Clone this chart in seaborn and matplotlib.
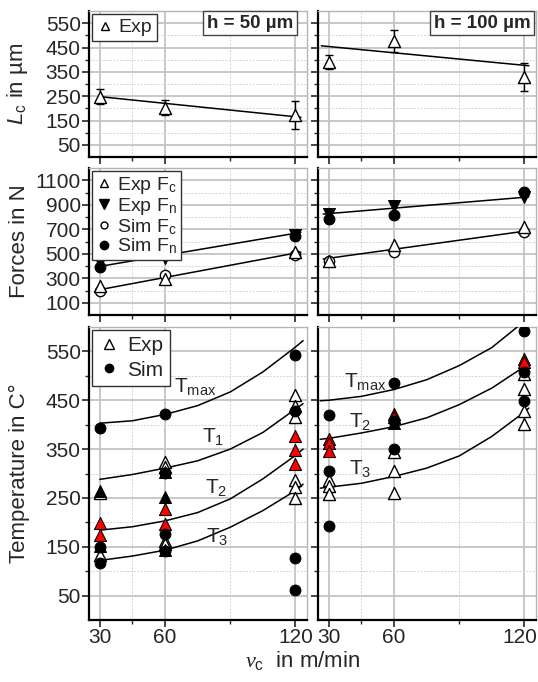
import matplotlib
matplotlib.use('Agg')
import matplotlib.pyplot as plt
from matplotlib.lines import Line2D
from matplotlib.ticker import FixedLocator, NullFormatter
from matplotlib.transforms import ScaledTranslation
import seaborn as sns

sns.set_style("ticks")
plt.rcParams['font.family'] = ['Liberation Sans', 'DejaVu Sans']
plt.rcParams['mathtext.fontset'] = 'custom'
plt.rcParams['mathtext.rm'] = 'Liberation Sans'
plt.rcParams['mathtext.it'] = 'Liberation Serif:italic'
plt.rcParams['mathtext.sf'] = 'Liberation Sans:italic'

speeds = [30, 60, 120]

# _____contact length_____
lc_50 = [248, 203, 172]
lc_50_err = [30, 31, 58]
lc_100 = [389, 477, 328]
lc_100_err = [29, 45, 58]
lc_fit_x_50 = [30, 122.5]
lc_fit_50 = [248, 163]
lc_fit_x_100 = [26.5, 122]
lc_fit_100 = [457, 375]

# _____forces_____
exp_fc_50 = [234, 294, 515]
exp_fn_50 = [432, 465, 650]
sim_fc_50 = [200, 329, 492]
sim_fn_50 = [390, 491, 645]
exp_fc_100 = [437, 573, 721]
exp_fn_100 = [821, 889, 960]
sim_fc_100 = [443, 513, 675]
sim_fn_100 = [781, 813, 1005]
f_fit_x_50 = [30, 122.5]
fc_fit_50 = [207, 514]
fn_fit_50 = [397, 675]
f_fit_x_100 = [27.4, 122]
fc_fit_100 = [457, 689]
fn_fit_100 = [824, 964]

# _____temperatures_____
sim_x_50 = [30, 30, 30, 60, 60, 60, 60, 120, 120, 120, 120]
sim_t_50 = [393, 150, 117, 422, 301, 176, 141, 543, 428, 126, 62]
exp_x_50 = [30, 30, 60, 60, 60, 60, 120, 120, 120, 120, 120, 120]
exp_t_50 = [260, 133, 324, 313, 162, 155, 460, 439, 415, 287, 272, 249]
blk_x_50 = [30, 30, 60, 60, 60]
blk_t_50 = [265, 152, 304, 252, 143]
red_x_50 = [30, 30, 60, 60, 120, 120, 120]
red_t_50 = [198, 174, 228, 196, 376, 349, 320]

sim_x_100 = [30, 30, 30, 60, 60, 60, 120, 120, 120]
sim_t_100 = [419, 306, 192, 485, 407, 350, 591, 507, 448]
exp_x_100 = [30, 30, 30, 60, 60, 60, 120, 120, 120, 120]
exp_t_100 = [287, 274, 259, 345, 306, 260, 504, 473, 429, 401]
blk_x_100 = [60]
blk_t_100 = [404]
red_x_100 = [30, 30, 30, 60, 60, 120, 120]
red_t_100 = [371, 362, 347, 422, 415, 535, 529]

curve_x_50 = [30, 45, 60, 75, 90, 105, 120, 123.5]
tmax_50 = [403, 408, 421, 439, 467, 508, 559, 572]
t1_50 = [288, 298, 311, 326, 350, 384, 432, 443]
t2_50 = [184, 191, 203, 220, 248, 289, 337, 350]
t3_50 = [122, 131, 143, 162, 190, 224, 265, 278]
curve_x_100 = [26, 30, 45, 60, 75, 90, 105, 120, 122]
tmax_100 = [449, 450, 458, 472, 492, 521, 558, 612, 620]
t2_100 = [370, 372, 383, 396, 414, 441, 475, 519, 526]
t3_100 = [270, 272, 280, 294, 311, 336, 376, 426, 434]

W, H = 538, 682
fig = plt.figure(figsize=(W / 100, H / 100), dpi=100)


def px_axes(x0, x1, y0, y1):
    return fig.add_axes([x0 / W, 1 - y1 / H, (x1 - x0) / W, (y1 - y0) / H])


cols = [(89, 307), (318, 536)]
rows = [(11, 157), (168, 315), (327, 620)]
axes = [[px_axes(c[0], c[1], r[0], r[1]) for c in cols] for r in rows]

yticks = [([50, 150, 250, 350, 450, 550], [100, 200, 300, 400, 500], 600),
          ([100, 300, 500, 700, 900, 1100], [200, 400, 600, 800, 1000], 1200),
          ([50, 150, 250, 350, 450, 550], [100, 200, 300, 400, 500], 600)]

for i, row in enumerate(axes):
    for j, ax in enumerate(row):
        ax.set_xlim(25, 125.3)
        ax.set_ylim(0, yticks[i][2])
        ax.xaxis.set_major_locator(FixedLocator(speeds))
        ax.xaxis.set_minor_locator(FixedLocator([45, 90]))
        ax.yaxis.set_major_locator(FixedLocator(yticks[i][0]))
        ax.yaxis.set_minor_locator(FixedLocator(yticks[i][1]))
        ax.grid(which='major', color='#c4c4c4', lw=1.3, zorder=0)
        ax.grid(which='minor', color='#d4d4d4', lw=0.7, ls=(0, (2, 1.5)), zorder=0)
        ax.set_axisbelow(True)
        ax.tick_params(which='major', direction='out', length=5, width=1.2, labelsize=15, pad=1)
        ax.tick_params(which='minor', direction='out', length=3, width=1.0)
        for s in ['left', 'bottom']:
            ax.spines[s].set_linewidth(1.6)
            ax.spines[s].set_color('black')
        for s in ['top', 'right']:
            ax.spines[s].set_visible(True)
            ax.spines[s].set_linewidth(1.0)
            ax.spines[s].set_color('#b5b5b5')
        if i < 2:
            ax.xaxis.set_major_formatter(NullFormatter())
        if j == 1:
            ax.yaxis.set_major_formatter(NullFormatter())
        ax.set_xlabel('')
        ax.set_ylabel('')

tri_open = dict(marker='^', color='white', edgecolor='black', linewidth=1.0)
circ_fill = dict(marker='o', color='black', edgecolor='black', linewidth=0.8)

# _____ROW 1: contact length_____
for ax, lc, err, fx, fy in [(axes[0][0], lc_50, lc_50_err, lc_fit_x_50, lc_fit_50),
                            (axes[0][1], lc_100, lc_100_err, lc_fit_x_100, lc_fit_100)]:
    sns.lineplot(x=fx, y=fy, color='black', lw=1.1, ax=ax, zorder=3)
    ax.errorbar(speeds, lc, yerr=err, fmt='none', ecolor='black', elinewidth=1.0, capsize=3, capthick=1.0, zorder=4)
    sns.scatterplot(x=speeds, y=lc, s=75, zorder=5, ax=ax, **tri_open)

leg = axes[0][0].legend(handles=[Line2D([], [], ls='', marker='^', mfc='white', mec='black', ms=6)],
                        labels=['Exp'], loc='upper left', fontsize=14, handlelength=0.8, handletextpad=0.3,
                        borderpad=0.25, borderaxespad=0.15, fancybox=False, edgecolor='#333333', framealpha=1)
leg.get_frame().set_linewidth(1.0)
for ax, label, xr in [(axes[0][0], 'h = 50 µm', 0.935), (axes[0][1], 'h = 100 µm', 0.975)]:
    ax.text(xr, 0.975, label, transform=ax.transAxes, ha='right', va='top', fontsize=13.5, fontweight='bold',
            bbox=dict(boxstyle='square,pad=0.2', fc='white', ec='#444444', lw=1.0), zorder=10)

# _____ROW 2: forces_____
for ax, efc, efn, sfc, sfn, fx, ffc, ffn in [
        (axes[1][0], exp_fc_50, exp_fn_50, sim_fc_50, sim_fn_50, f_fit_x_50, fc_fit_50, fn_fit_50),
        (axes[1][1], exp_fc_100, exp_fn_100, sim_fc_100, sim_fn_100, f_fit_x_100, fc_fit_100, fn_fit_100)]:
    sns.lineplot(x=fx, y=ffc, color='black', lw=1.1, ax=ax, zorder=3)
    sns.lineplot(x=fx, y=ffn, color='black', lw=1.1, ax=ax, zorder=3)
    sns.scatterplot(x=speeds, y=sfc, marker='o', color='white', edgecolor='black', linewidth=1.0, s=55, zorder=4, ax=ax)
    sns.scatterplot(x=speeds, y=efc, s=75, zorder=5, ax=ax, **tri_open)
    sns.scatterplot(x=speeds, y=efn, marker='v', color='black', edgecolor='black', s=75, zorder=4, ax=ax)
    sns.scatterplot(x=speeds, y=sfn, s=60, zorder=5, ax=ax, **circ_fill)

handles = [Line2D([], [], ls='', marker='^', mfc='white', mec='black', ms=6),
           Line2D([], [], ls='', marker='v', mfc='black', mec='black', ms=7),
           Line2D([], [], ls='', marker='o', mfc='white', mec='black', ms=5),
           Line2D([], [], ls='', marker='o', mfc='black', mec='black', ms=6)]
labels = ['Exp F$_{\\mathrm{c}}$', 'Exp F$_{\\mathrm{n}}$', 'Sim F$_{\\mathrm{c}}$', 'Sim F$_{\\mathrm{n}}$']
leg = axes[1][0].legend(handles=handles, labels=labels, loc='upper left', fontsize=14, handlelength=0.8,
                        handletextpad=0.3, labelspacing=0.0, borderpad=0.2, borderaxespad=0.15,
                        fancybox=False, edgecolor='#333333', framealpha=1)
leg.get_frame().set_linewidth(1.0)

# _____ROW 3: temperatures_____
panels = [(axes[2][0], sim_x_50, sim_t_50, exp_x_50, exp_t_50, blk_x_50, blk_t_50, red_x_50, red_t_50,
           curve_x_50, [tmax_50, t1_50, t2_50, t3_50]),
          (axes[2][1], sim_x_100, sim_t_100, exp_x_100, exp_t_100, blk_x_100, blk_t_100, red_x_100, red_t_100,
           curve_x_100, [tmax_100, t2_100, t3_100])]
for ax, sx, st, ex, et, bx, bt, rx, rt, cx, curves in panels:
    for cy in curves:
        sns.lineplot(x=cx, y=cy, color='black', lw=1.1, ax=ax, zorder=3, sort=False)
    sns.scatterplot(x=ex, y=et, s=75, zorder=4, ax=ax, **tri_open)
    sns.scatterplot(x=bx, y=bt, marker='^', color='black', edgecolor='black', s=75, zorder=5, ax=ax)
    sns.scatterplot(x=rx, y=rt, marker='^', color='#ff0000', edgecolor='black', linewidth=0.8, s=75, zorder=5, ax=ax)
    sns.scatterplot(x=sx, y=st, s=60, zorder=6, ax=ax, **circ_fill)

curve_labels_50 = [('T$_{\\mathrm{max}}$', 74, 478), ('T$_{1}$', 82, 375), ('T$_{2}$', 83.5, 272), ('T$_{3}$', 84, 170)]
curve_labels_100 = [('T$_{\\mathrm{max}}$', 46.5, 489), ('T$_{2}$', 44.5, 407), ('T$_{3}$', 44.5, 311)]
for ax, lbls in [(axes[2][0], curve_labels_50), (axes[2][1], curve_labels_100)]:
    for txt, x, y in lbls:
        ax.text(x, y, txt, fontsize=15, ha='center', va='center', zorder=7)

handles = [Line2D([], [], ls='', marker='^', mfc='white', mec='black', ms=7),
           Line2D([], [], ls='', marker='o', mfc='black', mec='black', ms=6)]
leg = axes[2][0].legend(handles=handles, labels=['Exp', 'Sim'], loc='upper left', fontsize=15, handlelength=1.0,
                        handletextpad=0.4, labelspacing=0.25, borderpad=0.3, borderaxespad=0.15,
                        fancybox=False, edgecolor='#333333', framealpha=1)
leg.get_frame().set_linewidth(1.0)

# keep the last "120" inside the picture
fig.canvas.draw()
last = axes[2][1].get_xticklabels()[-1]
last.set_transform(last.get_transform() + ScaledTranslation(-5 / 100, 0, fig.dpi_scale_trans))

# _____axis labels_____
for i, txt in enumerate([r'$\mathsf{L}_{\mathrm{c}}$ in µm', 'Forces in N', 'Temperature in C°']):
    axes[i][0].set_ylabel(txt, fontsize=16)
    axes[i][0].yaxis.set_label_coords(-0.27, 0.5)
fig.text(303 / W, 1 - 660 / H, r'$\nu_{\mathrm{c}}$  in m/min', fontsize=16, ha='center', va='center')

fig.savefig('out.png', dpi=100)
